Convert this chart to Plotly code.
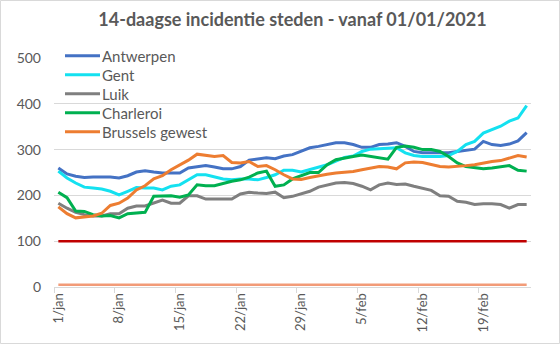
import pandas as pd
import plotly.graph_objects as go

# Daily dates 1 Jan - 24 Feb 2021, labelled "d/mmm" in Dutch
MONTHS = {1: "jan", 2: "feb"}
dates = pd.date_range("2021-01-01", "2021-02-24", freq="D")
day_labels = [f"{d.day}/{MONTHS[d.month]}" for d in dates]

# 14-day incidence per 100k inhabitants
antwerpen = [260, 247, 242, 239, 240, 240, 240, 238, 243, 251, 254, 251, 249, 249, 249,
             260, 262, 265, 262, 258, 258, 263, 277, 280, 282, 280, 286, 289, 296, 304,
             307, 311, 315, 315, 311, 305, 305, 311, 312, 315, 307, 296, 293, 293, 293,
             293, 296, 298, 301, 318, 311, 309, 312, 319, 337]
gent = [253, 238, 227, 218, 216, 214, 209, 201, 209, 217, 216, 216, 212, 220, 223,
        234, 245, 245, 240, 236, 234, 236, 236, 234, 239, 245, 255, 255, 251, 256,
        262, 267, 275, 283, 286, 296, 301, 302, 302, 304, 293, 287, 285, 285, 285,
        287, 296, 311, 318, 336, 344, 351, 362, 369, 396]
luik = [183, 172, 163, 158, 155, 155, 160, 160, 172, 177, 177, 183, 190, 183, 183,
        199, 199, 192, 192, 192, 192, 203, 207, 205, 204, 207, 195, 198, 204, 209,
        218, 223, 227, 228, 226, 220, 212, 223, 227, 224, 225, 220, 216, 211, 199,
        198, 187, 185, 180, 182, 182, 180, 172, 180, 180]
charleroi = [207, 195, 166, 165, 158, 155, 156, 151, 160, 161, 163, 198, 199, 199, 196,
             201, 223, 221, 221, 226, 231, 234, 240, 249, 253, 220, 223, 236, 243, 250,
             250, 267, 278, 282, 285, 288, 285, 282, 279, 305, 308, 305, 300, 300, 296,
             285, 271, 263, 260, 258, 260, 263, 265, 255, 253]
brussel = [175, 160, 151, 153, 155, 161, 178, 183, 194, 212, 221, 236, 243, 256, 267,
           277, 290, 287, 285, 287, 272, 271, 274, 263, 265, 256, 245, 236, 235, 239,
           243, 246, 249, 251, 252, 256, 260, 263, 262, 258, 271, 273, 272, 267, 263,
           262, 263, 265, 267, 271, 274, 276, 282, 287, 284]
threshold_high = [100] * len(day_labels)
threshold_low = [5] * len(day_labels)

series = [
    ("Antwerpen", antwerpen, "#4472C4"),
    ("Gent", gent, "#14E1F0"),
    ("Luik", luik, "#7F7F7F"),
    ("Charleroi", charleroi, "#00B050"),
    ("Brussels gewest", brussel, "#ED7D31"),
]

FONT = "Lato"
TEXT = "#595959"
GRID = "#D9D9D9"

fig = go.Figure()
for name, values, color in series:
    fig.add_trace(go.Scatter(x=day_labels, y=values, name=name, mode="lines",
                             line=dict(color=color, width=3)))
fig.add_trace(go.Scatter(x=day_labels, y=threshold_high, mode="lines", name="100",
                         line=dict(color="#C00000", width=2.5), hoverinfo="skip"))
fig.add_trace(go.Scatter(x=day_labels, y=threshold_low, mode="lines", name="0",
                         line=dict(color="#F29B78", width=2.5), hoverinfo="skip"))

# plot area in pixels
L, R, T, B = 54, 29, 58, 57
W, H = 560, 344
pw, ph = W - L - R, H - T - B


def px_x(x):
    return (x - L) / pw


def px_y(y):
    return (H - B - y) / ph


# legend block: a line sample and a label per city, stacked at 19 px
shapes = [dict(type="rect", xref="paper", yref="paper",
               x0=px_x(0.5), x1=px_x(W - 0.5), y0=px_y(H - 0.5), y1=px_y(0.5),
               line=dict(color=GRID, width=1), fillcolor="rgba(0,0,0,0)", layer="below")]
annotations = []
for k, (name, _, color) in enumerate(series):
    yk = 55.7 + 19 * k
    shapes.append(dict(type="line", xref="paper", yref="paper",
                       x0=px_x(65), x1=px_x(100), y0=px_y(yk), y1=px_y(yk),
                       line=dict(color=color, width=3)))
    annotations.append(dict(xref="paper", yref="paper", x=px_x(100), y=px_y(yk),
                            xanchor="left", yanchor="middle", text=name, showarrow=False,
                            font=dict(size=15, color=TEXT, family=FONT)))

fig.update_layout(
    width=W, height=H,
    margin=dict(l=L, r=R, t=T, b=B),
    paper_bgcolor="white", plot_bgcolor="white",
    font=dict(family=FONT, color=TEXT, size=13),
    title=dict(text="<b>14-daagse incidentie steden - vanaf 01/01/2021</b>",
               x=0.5, xref="paper", xanchor="center", y=1 - 20 / H, yanchor="middle",
               font=dict(size=18, color=TEXT, family=FONT)),
    showlegend=False,
    xaxis=dict(type="category", range=[-0.5, len(day_labels) - 0.5],
               tickmode="linear", tick0=0, dtick=7, tickson="boundaries",
               ticks="outside", ticklen=5, tickcolor=GRID, tickangle=-90,
               showgrid=False, showline=True, linecolor=GRID, linewidth=1,
               tickfont=dict(size=13, color=TEXT, family=FONT), zeroline=False),
    yaxis=dict(range=[0, 500], tickvals=[0, 100, 200, 300, 400, 500],
               showgrid=True, gridcolor=GRID, gridwidth=1, zeroline=False,
               showline=False, ticks="", ticklabelstandoff=12,
               tickfont=dict(size=14, color=TEXT, family=FONT)),
    shapes=shapes,
    annotations=annotations,
)

fig.write_html("out.html")
